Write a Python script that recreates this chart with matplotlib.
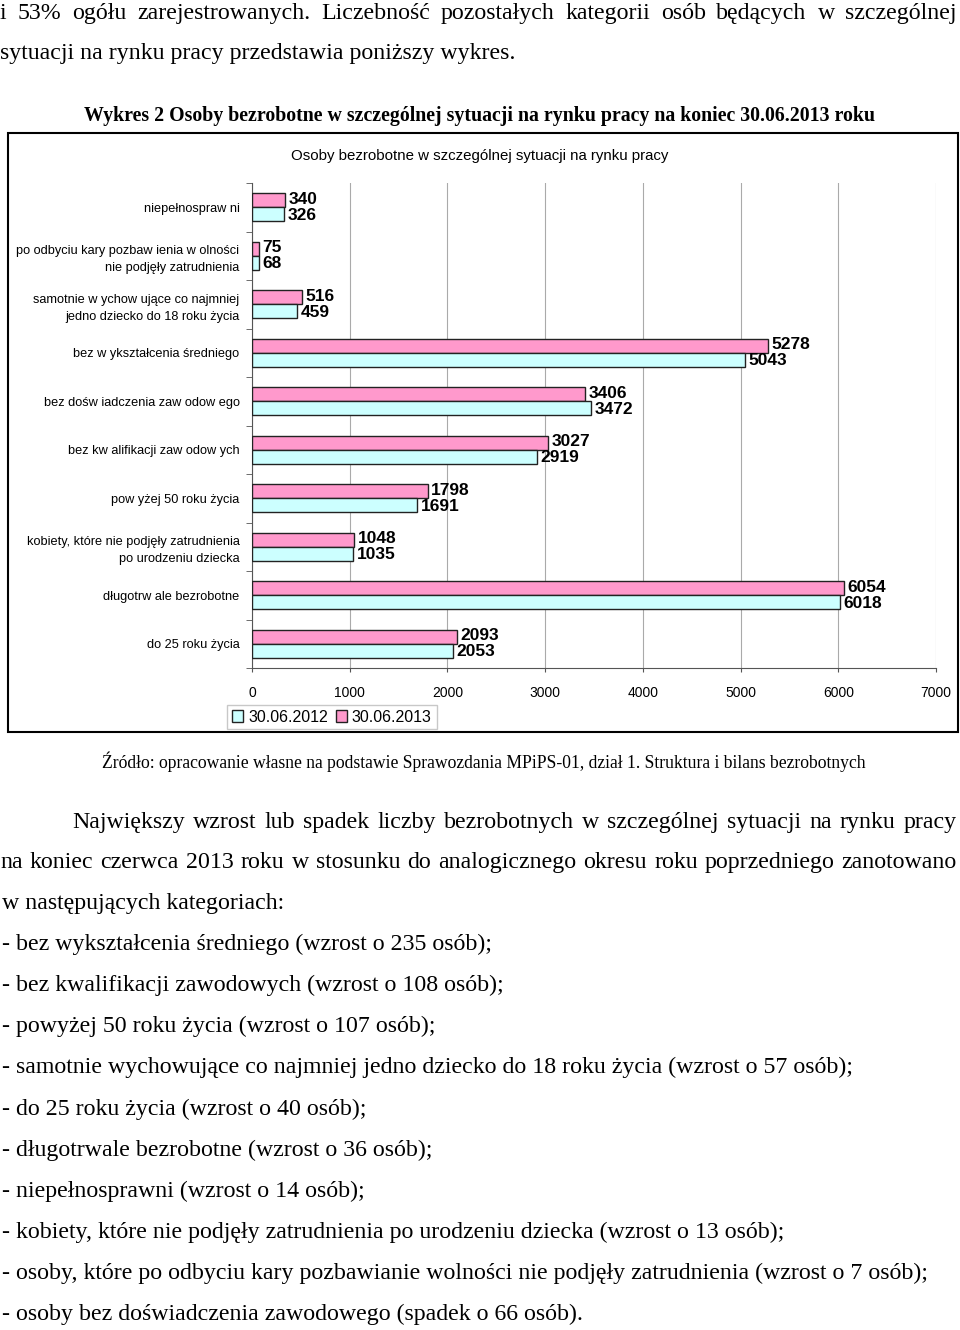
import matplotlib
matplotlib.use("Agg")
import matplotlib.pyplot as plt
from matplotlib.patches import Rectangle, Patch

W, H = 960, 1330

# ---------------- data ----------------
categories = [
    "niepełnospraw ni",
    "po odbyciu kary pozbaw ienia w olności\nnie podjęły zatrudnienia",
    "samotnie w ychow ujące co najmniej\njedno dziecko do 18 roku życia",
    "bez w ykształcenia średniego",
    "bez dośw iadczenia zaw odow ego",
    "bez kw alifikacji zaw odow ych",
    "pow yżej 50 roku życia",
    "kobiety, które nie podjęły zatrudnienia\npo urodzeniu dziecka",
    "długotrw ale bezrobotne",
    "do 25 roku życia",
]
values_2012 = [326, 68, 459, 5043, 3472, 2919, 1691, 1035, 6018, 2053]
values_2013 = [340, 75, 516, 5278, 3406, 3027, 1798, 1048, 6054, 2093]
series_labels = ["30.06.2012", "30.06.2013"]
x_ticks = [0, 1000, 2000, 3000, 4000, 5000, 6000, 7000]

intro_line1 = "i 53% ogółu zarejestrowanych. Liczebność pozostałych kategorii osób będących w szczególnej"
intro_line2 = "sytuacji na rynku pracy przedstawia poniższy wykres."
figure_caption = "Wykres 2 Osoby bezrobotne w szczególnej sytuacji na rynku pracy na koniec 30.06.2013 roku"
chart_title = "Osoby bezrobotne w szczególnej sytuacji na rynku pracy"
source_text = "Źródło: opracowanie własne na podstawie Sprawozdania MPiPS-01, dział 1. Struktura i bilans bezrobotnych"
body_justified = [
    "Największy wzrost lub spadek liczby bezrobotnych w szczególnej sytuacji na rynku pracy",
    "na koniec czerwca 2013 roku w stosunku do analogicznego okresu roku poprzedniego zanotowano",
]
body_lines = [
    "w następujących kategoriach:",
    "- bez wykształcenia średniego (wzrost o 235 osób);",
    "- bez kwalifikacji zawodowych (wzrost o 108 osób);",
    "- powyżej 50 roku życia (wzrost o 107 osób);",
    "- samotnie wychowujące co najmniej jedno dziecko do 18 roku życia (wzrost o 57 osób);",
    "- do 25 roku życia (wzrost o 40 osób);",
    "- długotrwale bezrobotne (wzrost o 36 osób);",
    "- niepełnosprawni (wzrost o 14 osób);",
    "- kobiety, które nie podjęły zatrudnienia po urodzeniu dziecka (wzrost o 13 osób);",
    "- osoby, które po odbyciu kary pozbawianie wolności nie podjęły zatrudnienia (wzrost o 7 osób);",
    "- osoby bez doświadczenia zawodowego (spadek o 66 osób).",
]

# ---------------- figure ----------------
fig = plt.figure(figsize=(W / 100, H / 100), dpi=100)
fig.patch.set_facecolor("white")

def fx(x):
    return x / W

def fy(y):
    return 1 - y / H

SERIF = ["Liberation Serif", "DejaVu Serif"]
SANS = ["Liberation Sans", "DejaVu Sans"]
VAL_FS = 12.5
BODY_FS = 17.2
BASE_OFF = 7  # baseline offset below visual line centre (px)

renderer = fig.canvas.get_renderer()

def justify(line, y, x0, x1, **kw):
    words = line.split(" ")
    texts = [fig.text(0, fy(y + BASE_OFF), w, va="baseline", ha="left", **kw) for w in words]
    widths = [t.get_window_extent(renderer).width for t in texts]
    gap = (x1 - x0 - sum(widths)) / (len(words) - 1)
    x = x0
    for t, w in zip(texts, widths):
        t.set_x(fx(x))
        x += w + gap

def line_text(x, y, s, **kw):
    fig.text(fx(x), fy(y + BASE_OFF), s, va="baseline", **kw)

# intro text
justify(intro_line1, 12, 0, 957, family=SERIF, fontsize=BODY_FS)
line_text(0, 52, intro_line2, ha="left", family=SERIF, fontsize=BODY_FS)
line_text(480, 114, figure_caption, ha="center", family=SERIF, fontsize=14.3, fontweight="bold")

# chart frame
fig.patches.append(Rectangle((fx(8), fy(732)), fx(958) - fx(8), fy(133) - fy(732),
                             transform=fig.transFigure, fill=False, edgecolor="black",
                             linewidth=1.5, zorder=0))
fig.text(fx(480), fy(156), chart_title, va="center", ha="center", family=SANS, fontsize=10.8)

# axes
ax = fig.add_axes([fx(252), fy(668), fx(936) - fx(252), fy(183) - fy(668)])
n = len(categories)
pos = list(range(n))
bh = 0.29
pink = "#FF99CC"
cyan = "#CCFFFF"
ax.barh([p - bh / 2 for p in pos], values_2013, height=bh, color=pink,
        edgecolor="#222222", linewidth=1.0, zorder=3, label=series_labels[1])
ax.barh([p + bh / 2 for p in pos], values_2012, height=bh, color=cyan,
        edgecolor="#222222", linewidth=1.0, zorder=3, label=series_labels[0])

ax.set_xlim(0, 7000)
ax.set_ylim(n - 0.5, -0.5)

# value labels, nudged apart just enough that their boxes do not overlap
px_per_unit = ax.get_window_extent(renderer).height / n
for p, v13, v12 in zip(pos, values_2013, values_2012):
    t13 = ax.text(v13 + 35, p - bh / 2, str(v13), va="center", ha="left",
                  family=SANS, fontsize=VAL_FS, fontweight="bold", zorder=4)
    t12 = ax.text(v12 + 35, p + bh / 2, str(v12), va="center", ha="left",
                  family=SANS, fontsize=VAL_FS, fontweight="bold", zorder=4)
    b13 = t13.get_window_extent(renderer)
    b12 = t12.get_window_extent(renderer)
    overlap = b12.y1 - b13.y0 + 1.0
    if overlap > 0:
        d = overlap / 2 / px_per_unit
        t13.set_y(p - bh / 2 - d)
        t12.set_y(p + bh / 2 + d)

ax.set_xticks(x_ticks)
ax.set_xticklabels([str(t) for t in x_ticks], family=SANS, fontsize=10)
ax.tick_params(axis="x", length=3, pad=10, color="#555555")
ax.set_yticks(pos)
ax.set_yticklabels(categories, family=SANS, fontsize=9.2, linespacing=1.55)
ax.tick_params(axis="y", which="major", length=0, pad=9)
ax.set_yticks([p - 0.5 for p in pos] + [n - 0.5], minor=True)
ax.tick_params(axis="y", which="minor", length=4, color="#555555")
ax.grid(axis="x", color="#AAAAAA", linewidth=0.8, zorder=0)
for s in ["top", "right"]:
    ax.spines[s].set_visible(False)
ax.spines["left"].set_color("#555555")
ax.spines["bottom"].set_color("#555555")
ax.set_axisbelow(True)

handles = [Patch(facecolor=cyan, edgecolor="#222222", label=series_labels[0]),
           Patch(facecolor=pink, edgecolor="#222222", label=series_labels[1])]
fig.legend(handles=handles, loc="center", bbox_to_anchor=(fx(332), fy(717)), ncol=2,
           frameon=True, fancybox=False, edgecolor="#BBBBBB", prop={"family": SANS, "size": 11.5},
           handlelength=0.7, handleheight=0.7, handletextpad=0.3, columnspacing=0.5,
           borderpad=0.3, borderaxespad=0)

# source
line_text(484, 761, source_text, ha="center", family=SERIF, fontsize=12.7)

# body
justify(body_justified[0], 821, 72, 957, family=SERIF, fontsize=BODY_FS)
justify(body_justified[1], 861, 0, 957, family=SERIF, fontsize=BODY_FS)
for i, line in enumerate(body_lines):
    line_text(2, 902 + i * 41.1, line, ha="left", family=SERIF, fontsize=BODY_FS)

fig.savefig("out.png", dpi=100, facecolor="white")
